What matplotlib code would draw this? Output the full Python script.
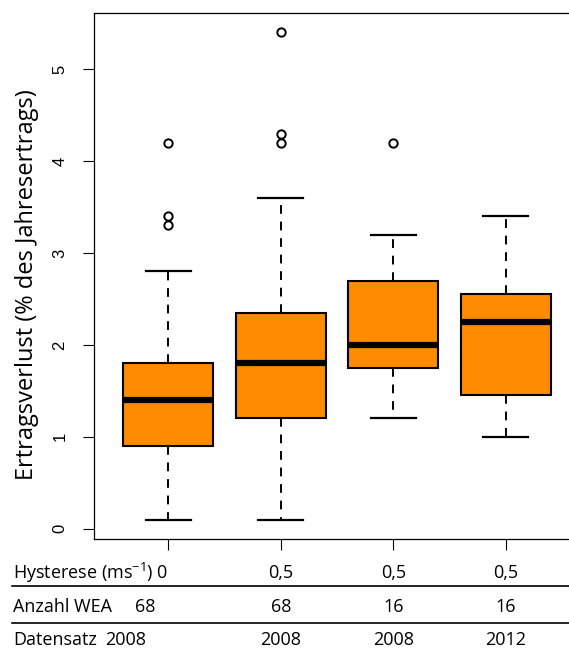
import matplotlib
matplotlib.use('Agg')
import matplotlib.pyplot as plt

# boxplot statistics (% of annual yield)
positions = [1, 2, 3, 4]
whislo = [0.1, 0.1, 1.2, 1.0]
q1 = [0.9, 1.2, 1.75, 1.45]
med = [1.4, 1.8, 2.0, 2.25]
q3 = [1.8, 2.35, 2.7, 2.55]
whishi = [2.8, 3.6, 3.2, 3.4]
fliers = [[3.3, 3.4, 4.2], [4.2, 4.3, 5.4], [4.2], []]

# table below the plot
hysterese = ['0', '0,5', '0,5', '0,5']
anzahl_wea = ['68', '68', '16', '16']
datensatz = ['2008', '2008', '2008', '2012']

plt.rcParams['font.family'] = ['Open Sans', 'DejaVu Sans']
plt.rcParams['mathtext.default'] = 'regular'

fig = plt.figure(figsize=(5.69, 6.48), dpi=100)
# axes extends a bit past the right edge like the cropped original
ax = fig.add_axes([94/569, 109/648, 486/569, 526/648])

stats = []
for i in range(len(positions)):
    stats.append(dict(whislo=whislo[i], q1=q1[i], med=med[i], q3=q3[i],
                      whishi=whishi[i], fliers=fliers[i]))

ax.bxp(stats, positions=positions, widths=0.8, patch_artist=True,
       boxprops=dict(facecolor='#ff8c00', edgecolor='black', linewidth=1.5),
       medianprops=dict(color='black', linewidth=4.5, solid_capstyle='butt'),
       whiskerprops=dict(color='black', linewidth=1.4, linestyle=(0, (4.5, 4))),
       capprops=dict(color='black', linewidth=1.6),
       capwidths=0.4,
       flierprops=dict(marker='o', markersize=6, markerfacecolor='none',
                       markeredgecolor='black', markeredgewidth=1.4))

ax.set_xlim(0.34, 4.66)
ax.set_ylim(-0.112, 5.612)
ax.set_xticks(positions)
ax.set_xticklabels([])
ax.set_yticks([0, 1, 2, 3, 4, 5])
ax.set_yticklabels(['0', '1', '2', '3', '4', '5'], rotation=90, va='center',
                   family=['Liberation Sans', 'DejaVu Sans'], fontsize=12)
ax.tick_params(axis='both', direction='out', length=8, width=0.8, pad=11)
ax.set_ylabel('Ertragsverlust (% des Jahresertrags)', fontsize=17)
ax.yaxis.label.set_va('center')
ax.yaxis.set_label_coords(-0.138, 0.483)
for s in ax.spines.values():
    s.set_linewidth(0.9)

# the small table under the chart
def xfig(v):
    # data x -> figure fraction
    return fig.transFigure.inverted().transform(ax.transData.transform((v, 0)))[0]

rows_y = [573, 607, 640]
fs = 13
fig.text(13/569, 1 - rows_y[0]/648, 'Hysterese (ms$^{-1}$) 0', fontsize=fs, va='center')
fig.text(13/569, 1 - rows_y[1]/648, 'Anzahl WEA', fontsize=fs, va='center')
fig.text(145/569, 1 - rows_y[1]/648, anzahl_wea[0], fontsize=fs, va='center', ha='center')
fig.text(13/569, 1 - rows_y[2]/648, 'Datensatz', fontsize=fs, va='center')
fig.text(126/569, 1 - rows_y[2]/648, datensatz[0], fontsize=fs, va='center', ha='center')
for i in range(1, 4):
    fig.text(xfig(positions[i]), 1 - rows_y[0]/648, hysterese[i], fontsize=fs, va='center', ha='center')
    fig.text(xfig(positions[i]), 1 - rows_y[1]/648, anzahl_wea[i], fontsize=fs, va='center', ha='center')
    fig.text(xfig(positions[i]), 1 - rows_y[2]/648, datensatz[i], fontsize=fs, va='center', ha='center')

for ly in [586, 623]:
    fig.add_artist(plt.Line2D([12/569, 1], [1 - ly/648, 1 - ly/648],
                              transform=fig.transFigure, color='black', linewidth=1.2))

fig.savefig('out.png', dpi=100)
